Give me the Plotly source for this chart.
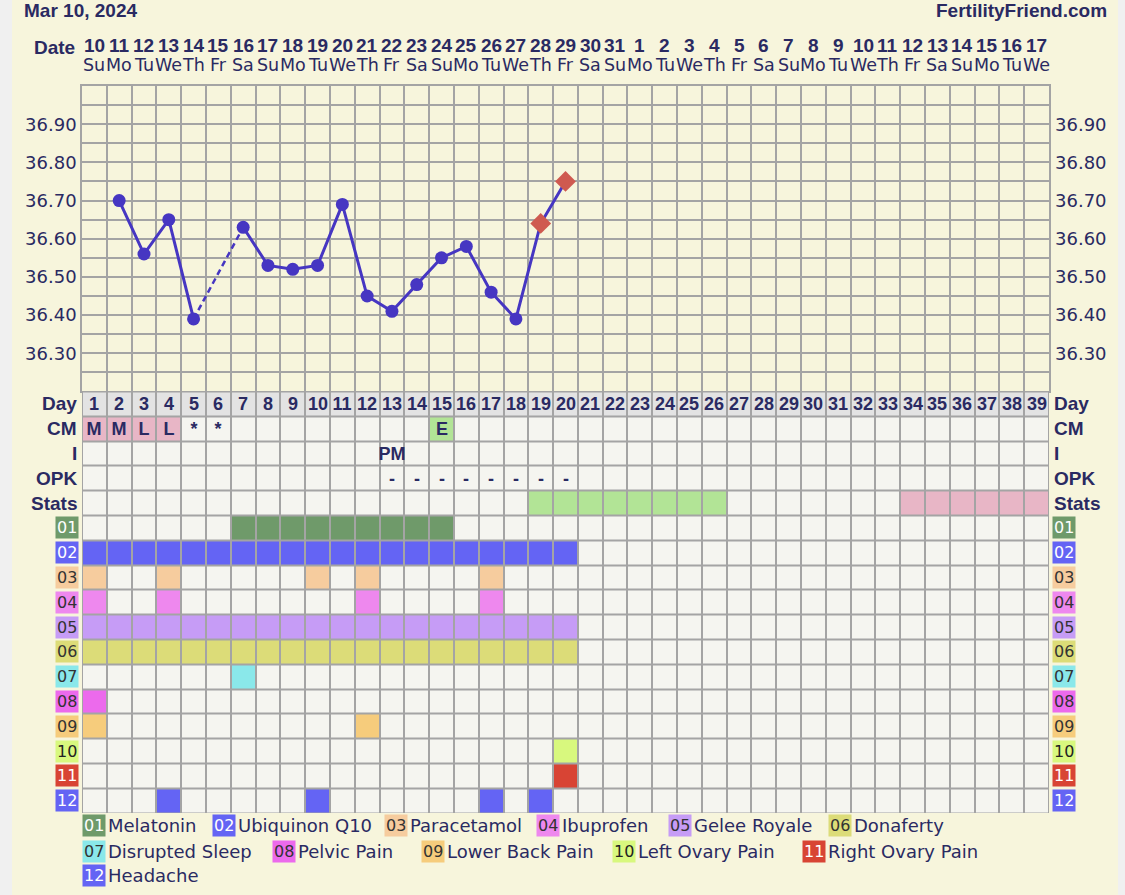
import datetime
import plotly.graph_objects as go

# ---------------- DATA ----------------
start_date = datetime.date(2024, 3, 10)
n_days = 39
cycle_days = list(range(1, n_days + 1))

temps = [None, 36.70, 36.56, 36.65, 36.39, None, 36.63, 36.53, 36.52, 36.53,
         36.69, 36.45, 36.41, 36.48, 36.55, 36.58, 36.46, 36.39, 36.64, 36.75]
temps = temps + [None] * (n_days - len(temps))
diamond_days = [19, 20]

temp_ticks = [36.30, 36.40, 36.50, 36.60, 36.70, 36.80, 36.90]

cm_days = [1, 2, 3, 4, 5, 6, 15]
cm_codes = ["M", "M", "L", "L", "*", "*", "E"]
cm_kinds = ["pink", "pink", "pink", "pink", "none", "none", "green"]

intercourse_days = [13]
intercourse_codes = ["PM"]

opk_days = [13, 14, 15, 16, 17, 18, 19, 20]
opk_codes = ["-"] * 8

stats_green_days = [19, 20, 21, 22, 23, 24, 25, 26]
stats_pink_days = [34, 35, 36, 37, 38, 39]

row_labels = ["Day", "CM", "I", "OPK", "Stats"]

item_codes = ["01", "02", "03", "04", "05", "06", "07", "08", "09", "10", "11", "12"]
item_names = ["Melatonin", "Ubiquinon Q10", "Paracetamol", "Ibuprofen", "Gelee Royale",
              "Donaferty", "Disrupted Sleep", "Pelvic Pain", "Lower Back Pain",
              "Left Ovary Pain", "Right Ovary Pain", "Headache"]
item_days = [
    [7, 8, 9, 10, 11, 12, 13, 14, 15],
    list(range(1, 21)),
    [1, 4, 10, 12, 17],
    [1, 4, 12, 17],
    list(range(1, 21)),
    list(range(1, 21)),
    [7],
    [1],
    [1, 12],
    [20],
    [20],
    [4, 10, 17, 19],
]

# ---------------- STYLE ----------------
item_colors = ["#6f9a6a", "#6464f4", "#f6cc9e", "#ee88ee", "#c69cf6", "#dcdc78",
               "#8ae8ea", "#ec6aec", "#f6cc7c", "#d8f87e", "#d84434", "#6464f4"]
item_text_colors = ["#ffffff", "#ffffff", "#333333", "#333333", "#333333", "#333333",
                    "#333333", "#333333", "#333333", "#222222", "#ffffff", "#ffffff"]
legend_layout = [  # (box left px, row center px) in page pixels
    (82, 826), (212, 826), (384, 826), (536, 826), (668, 826), (828, 826),
    (82, 851), (272, 851), (421, 851), (612, 851), (802, 851),
    (82, 875),
]

NAVY = "#2a2a62"
CREAM = "#f7f5dc"
EDGE = "#f0f0f0"
GRID = "#a4a4a4"
EMPTY = "#f5f5f0"
HEADER = "#e3e3e3"
PINK = "#e8b6c6"
GREEN = "#b2e496"
LINE = "#4636c2"
RED = "#cf5a50"
BOLD = "Liberation Sans, Arial, sans-serif"
REG = "DejaVu Sans, Verdana, sans-serif"

W, H = 1125, 895
GX0, GX1, GY0, GY1 = 82, 1049, 86, 813   # grid extent in pixels
ML, MR, MT, MB = GX0, W - GX1, GY0, H - GY1
PW, PH = GX1 - GX0, GY1 - GY0
n_rows = len(row_labels) + len(item_codes)
cell = PW / n_days
table_frac = n_rows * cell / PH


def px_x(p):
    return (p - GX0) / PW


def px_y(p):
    return (GY1 - p) / PH


fig = go.Figure()

# ---------------- TABLE (heatmap) ----------------
palette = [EMPTY, HEADER, PINK, GREEN] + item_colors
idx = {c: i for i, c in enumerate(palette)}
z = [[idx[EMPTY]] * n_days for _ in range(n_rows)]
txt = [[""] * n_days for _ in range(n_rows)]
for d in cycle_days:
    z[0][d - 1] = idx[HEADER]
    txt[0][d - 1] = str(d)
for d, c, k in zip(cm_days, cm_codes, cm_kinds):
    txt[1][d - 1] = c
    if k == "pink":
        z[1][d - 1] = idx[PINK]
    elif k == "green":
        z[1][d - 1] = idx[GREEN]
for d, c in zip(intercourse_days, intercourse_codes):
    txt[2][d - 1] = c
for d, c in zip(opk_days, opk_codes):
    txt[3][d - 1] = c
for d in stats_green_days:
    z[4][d - 1] = idx[GREEN]
for d in stats_pink_days:
    z[4][d - 1] = idx[PINK]
for i, days in enumerate(item_days):
    for d in days:
        z[5 + i][d - 1] = 4 + i

N = len(palette)
cscale = []
for k, c in enumerate(palette):
    cscale.append([k / N, c])
    cscale.append([(k + 1) / N, c])
zz = [[v + 0.5 for v in row] for row in z]

fig.add_trace(go.Heatmap(
    x=cycle_days, y=[r + 0.5 for r in range(n_rows)], z=zz, text=txt,
    texttemplate="%{text}", textfont=dict(family=BOLD, size=18, color=NAVY, weight="bold"),
    colorscale=cscale, zmin=0, zmax=N, showscale=False, xgap=2, ygap=2,
    hoverinfo="skip", xaxis="x2", yaxis="y2"))

# ---------------- TEMPERATURE ----------------
symbols = ["diamond" if d in diamond_days else "circle" for d in cycle_days]
mcolors = [RED if d in diamond_days else LINE for d in cycle_days]
msizes = [16 if d in diamond_days else 13 for d in cycle_days]

# dashed bridges over missing days
valid = [(d, t) for d, t in zip(cycle_days, temps) if t is not None]
for (d0, t0), (d1, t1) in zip(valid[:-1], valid[1:]):
    if d1 - d0 > 1:
        fig.add_trace(go.Scatter(x=[d0, d1], y=[t0, t1], mode="lines",
                                 line=dict(color=LINE, width=2.5, dash="6px,4px"),
                                 hoverinfo="skip", showlegend=False, xaxis="x", yaxis="y"))

fig.add_trace(go.Scatter(
    x=cycle_days, y=temps, mode="lines+markers", connectgaps=False,
    line=dict(color=LINE, width=3),
    marker=dict(symbol=symbols, color=mcolors, size=msizes, opacity=1, line=dict(width=0)),
    showlegend=False, xaxis="x", yaxis="y"))

# ---------------- AXES ----------------
ymin, ymax = 36.20, 37.00
grid_vals = [round(ymin + 0.05 * i, 2) for i in range(int(round((ymax - ymin) / 0.05)) + 1)]
grid_text = [f"{v:.2f}" if any(abs(v - t) < 1e-6 for t in temp_ticks) else "" for v in grid_vals]
bounds = [d + 0.5 for d in range(0, n_days + 1)]

fig.update_layout(
    width=W, height=H, margin=dict(l=ML, r=MR, t=MT, b=MB),
    paper_bgcolor=EDGE, plot_bgcolor=CREAM, showlegend=False,
    xaxis=dict(domain=[0, 1], anchor="y", range=[0.5, n_days + 0.5], tickvals=bounds,
               showticklabels=False, ticks="", showgrid=True, gridcolor=GRID, gridwidth=1.5,
               zeroline=False, showline=True, linecolor=GRID, linewidth=1.5, mirror=True),
    yaxis=dict(domain=[table_frac, 1], anchor="x", range=[ymin, ymax], tickvals=grid_vals,
               ticktext=grid_text, ticks="", showgrid=True, gridcolor=GRID, gridwidth=1.5,
               zeroline=False, showline=True, linecolor=GRID, linewidth=1.5, mirror=True,
               tickfont=dict(family=REG, size=18, color=NAVY)),
    yaxis3=dict(overlaying="y", side="right", anchor="x", range=[ymin, ymax], tickvals=grid_vals,
                ticktext=grid_text, ticks="", showgrid=False, zeroline=False, showline=False,
                ticklabelstandoff=5,
                tickfont=dict(family=REG, size=18, color=NAVY)),
    xaxis2=dict(domain=[0, 1], anchor="y2", range=[0.5, n_days + 0.5], showticklabels=False,
                ticks="", showgrid=False, zeroline=False, showline=False),
    yaxis2=dict(domain=[0, table_frac], anchor="x2", range=[n_rows, 0], showticklabels=False,
                ticks="", showgrid=False, zeroline=False, showline=False),
)
# ghost trace so yaxis3 renders
fig.add_trace(go.Scatter(x=[None], y=[None], xaxis="x", yaxis="y3", showlegend=False))

shapes = [
    dict(type="rect", xref="paper", yref="paper", x0=px_x(12), x1=px_x(1118),
         y0=px_y(H + 5), y1=px_y(-5), fillcolor=CREAM, line=dict(width=0), layer="below"),
    dict(type="rect", xref="x2", yref="y2", x0=0.5, x1=n_days + 0.5, y0=0, y1=n_rows,
         fillcolor=GRID, line=dict(color=GRID, width=2), layer="below"),
]
fig.update_layout(shapes=shapes)

# ---------------- ANNOTATIONS ----------------
ann = []
ann.append(dict(text="<b>Mar 10, 2024</b>", xref="paper", yref="paper", x=px_x(22), y=px_y(11),
                xanchor="left", yanchor="middle", showarrow=False,
                font=dict(family=BOLD, size=19, color=NAVY)))
ann.append(dict(text="<b>FertilityFriend.com</b>", xref="paper", yref="paper", x=px_x(1109),
                y=px_y(11), xanchor="right", yanchor="middle", showarrow=False,
                font=dict(family=BOLD, size=19, color=NAVY)))
ann.append(dict(text="<b>Date</b>", xref="paper", yref="paper", x=px_x(77), y=px_y(47),
                xanchor="right", yanchor="middle", showarrow=False,
                font=dict(family=BOLD, size=19, color=NAVY)))
wd = ["Mo", "Tu", "We", "Th", "Fr", "Sa", "Su"]
for d in cycle_days:
    dt = start_date + datetime.timedelta(days=d - 1)
    ann.append(dict(text=f"<b>{dt.day}</b>", xref="x", yref="paper", x=d, y=px_y(45),
                    xanchor="center", yanchor="middle", showarrow=False,
                    font=dict(family=BOLD, size=19, color=NAVY)))
    ann.append(dict(text=wd[dt.weekday()], xref="x", yref="paper", x=d, y=px_y(65),
                    xanchor="center", yanchor="middle", showarrow=False,
                    font=dict(family=REG, size=17.5, color=NAVY)))

for r, lab in enumerate(row_labels):
    for xp, anc in ((px_x(79), "right"), (px_x(1052), "left")):
        ann.append(dict(text=f"<b>{lab}</b>", xref="paper", yref="y2", x=xp, y=r + 0.5,
                        xanchor=anc, yanchor="middle", showarrow=False,
                        font=dict(family=BOLD, size=19, color=NAVY)))
for i, code in enumerate(item_codes):
    r = len(row_labels) + i
    for xp, anc in ((px_x(79), "right"), (px_x(1052), "left")):
        ann.append(dict(text=code, xref="paper", yref="y2", x=xp, y=r + 0.5,
                        xanchor=anc, yanchor="middle", showarrow=False, bgcolor=item_colors[i],
                        borderpad=1, font=dict(family=REG, size=16, color=item_text_colors[i])))

for i, (code, name) in enumerate(zip(item_codes, item_names)):
    bx, by = legend_layout[i]
    ann.append(dict(text=code, xref="paper", yref="paper", x=px_x(bx), y=px_y(by),
                    xanchor="left", yanchor="middle", showarrow=False, bgcolor=item_colors[i],
                    borderpad=1, font=dict(family=REG, size=16, color=item_text_colors[i])))
    ann.append(dict(text=name, xref="paper", yref="paper", x=px_x(bx + 24), y=px_y(by),
                    xanchor="left", yanchor="middle", showarrow=False,
                    font=dict(family=REG, size=18, color=NAVY)))

fig.update_layout(annotations=ann)
# remove the browser's default page margin so the figure fills the window
fig.write_html("out.html",
               config={"displayModeBar": False},
               post_script="document.body.style.margin='0';"
                           "document.body.style.background='" + EDGE + "';")
